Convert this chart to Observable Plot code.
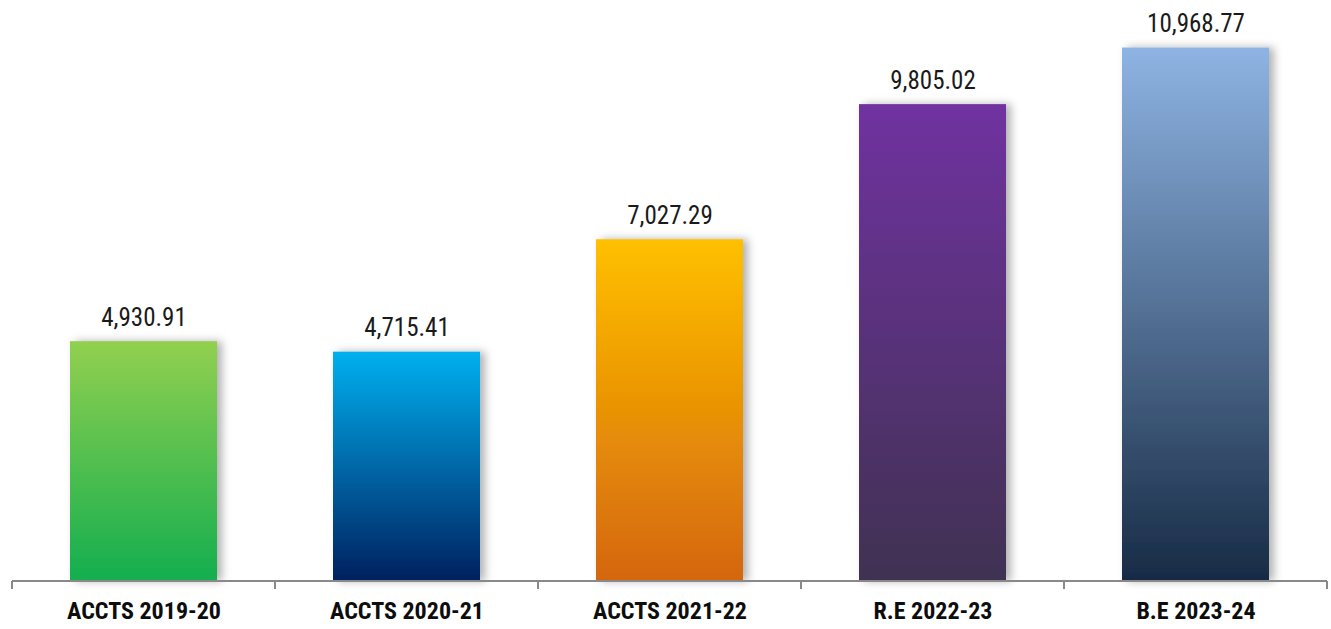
<!DOCTYPE html>
<html>
<head>
<meta charset="utf-8">
<script src="https://cdn.jsdelivr.net/npm/d3@7"></script>
<script src="https://cdn.jsdelivr.net/npm/@observablehq/plot@0.6"></script>
<style>
  html, body { margin: 0; padding: 0; background: #fff; }
  #chart svg { display: block; font-family: "Roboto Condensed", "Liberation Sans Narrow", "DejaVu Sans Condensed", Roboto, sans-serif; font-stretch: condensed; }
</style>
</head>
<body>
<div id="chart"></div>
<script>
const categories = ["ACCTS 2019-20", "ACCTS 2020-21", "ACCTS 2021-22", "R.E 2022-23", "B.E 2023-24"];
const values = [4930.91, 4715.41, 7027.29, 9805.02, 10968.77];
const topColors = ["#92D050", "#00B0F0", "#FFC000", "#7030A0", "#8EB4E3"];
const bottomColors = ["#13AE4F", "#00205F", "#D4660C", "#403152", "#172B45"];

const data = categories.map((c, i) => ({cat: c, value: values[i], fill: `url(#grad${i})`}));
const fmt = d3.format(",.2f");

const W = 1331, H = 629;

const axisMark = (index, scales, vals, dims) => {
  const x = scales.x, y = scales.y;
  const bw = x.bandwidth ? x.bandwidth() : 0;
  const step = x(categories[1]) - x(categories[0]);
  const y0 = y(0);
  const g = d3.create("svg:g");
  const left = x(categories[0]) + bw / 2 - step / 2;
  const right = x(categories[categories.length - 1]) + bw / 2 + step / 2;
  g.append("line").attr("x1", left).attr("x2", right).attr("y1", y0).attr("y2", y0)
    .attr("stroke", "#898989").attr("stroke-width", 2);
  const bounds = categories.map(c => x(c) + bw / 2 - step / 2).concat([right]);
  for (const b of bounds) {
    g.append("line").attr("x1", b).attr("x2", b).attr("y1", y0).attr("y2", y0 + 8)
      .attr("stroke", "#898989").attr("stroke-width", 2);
  }
  return g.node();
};

const plot = Plot.plot({
  width: W,
  height: H,
  marginLeft: 10,
  marginRight: 2,
  marginTop: 46,
  marginBottom: 48,
  x: {domain: categories, paddingInner: 0.44, paddingOuter: 0.22, axis: null, label: null},
  y: {domain: [0, 11000], axis: null},
  color: {type: "identity"},
  marks: [
    Plot.barY(data, {x: "cat", y: "value", fill: "fill"}),
    axisMark,
    Plot.axisX({tickSize: 0, tickPadding: 20, fontSize: 24, fontWeight: "bold", fill: "#0d0d0d", label: null}),
    Plot.text(data, {x: "cat", y: "value", text: d => fmt(d.value), lineAnchor: "bottom", dy: -16, fontSize: 25, fill: "#1a1a1a"})
  ]
});

const svg = d3.select(plot);
const defs = svg.insert("defs", ":first-child");
const flt = defs.append("filter").attr("id", "shadow").attr("x", "-20%").attr("y", "-20%").attr("width", "150%").attr("height", "140%");
flt.append("feDropShadow").attr("dx", 5).attr("dy", 0).attr("stdDeviation", 4).attr("flood-color", "#000").attr("flood-opacity", 0.3);
topColors.forEach((c, i) => {
  const lg = defs.append("linearGradient").attr("id", `grad${i}`).attr("x1", 0).attr("y1", 0).attr("x2", 0).attr("y2", 1);
  lg.append("stop").attr("offset", "0%").attr("stop-color", c);
  lg.append("stop").attr("offset", "100%").attr("stop-color", bottomColors[i]);
});
svg.selectAll("g[aria-label='bar'] rect").attr("filter", "url(#shadow)");

document.getElementById("chart").appendChild(plot);
</script>
</body>
</html>
